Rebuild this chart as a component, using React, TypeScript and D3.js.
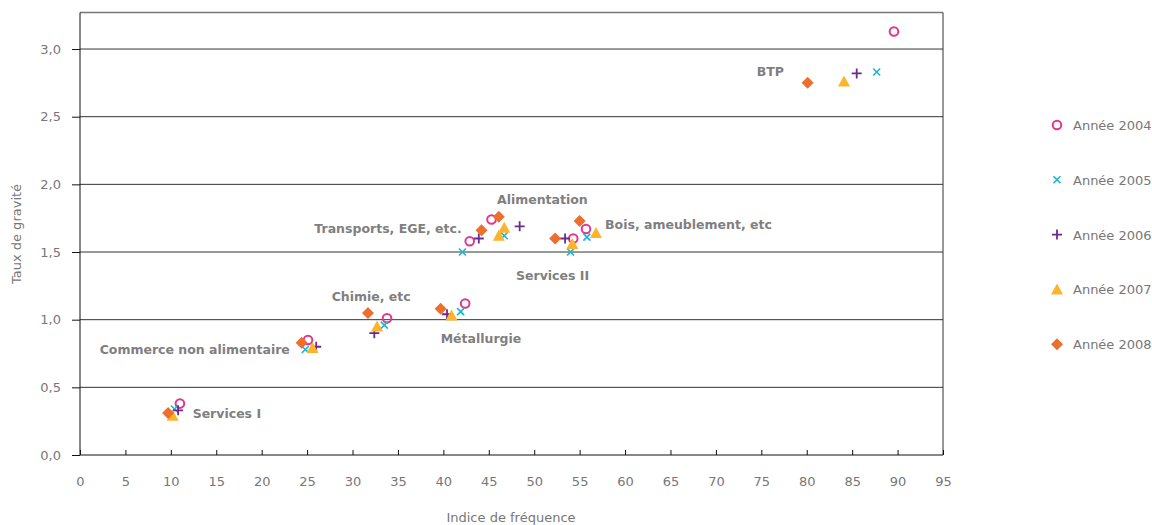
import * as d3 from 'd3';
import { useEffect, useRef } from 'react';

const sectors = ['Services I', 'Commerce non alimentaire', 'Chimie, etc', 'Métallurgie', 'Transports, EGE, etc.', 'Alimentation', 'Services II', 'Bois, ameublement, etc', 'BTP'];

// [indice de fréquence, taux de gravité] per sector, null where no mark
const y2004 = [[11.0, 0.38], [25.1, 0.85], [33.8, 1.01], [42.4, 1.12], [42.9, 1.58], [45.3, 1.74], [54.3, 1.60], [55.7, 1.67], [89.6, 3.13]];
const y2005 = [[10.4, 0.34], [24.8, 0.78], [33.5, 0.96], [41.9, 1.06], [42.1, 1.50], [46.7, 1.62], [54.0, 1.50], [55.8, 1.61], [87.7, 2.83]];
const y2006 = [[10.8, 0.33], [26.0, 0.80], [32.4, 0.90], [40.4, 1.04], [43.9, 1.60], [48.4, 1.69], [53.4, 1.60], null, [85.5, 2.82]];
const y2007 = [[10.2, 0.29], [25.6, 0.79], [32.7, 0.95], [40.9, 1.03], [46.1, 1.62], [46.7, 1.68], [54.2, 1.56], [56.8, 1.64], [84.1, 2.76]];
const y2008 = [[9.7, 0.31], [24.4, 0.83], [31.7, 1.05], [39.7, 1.08], [44.2, 1.66], [46.1, 1.76], [52.3, 1.60], [55.0, 1.73], [80.1, 2.75]];

// label anchor positions in data units (Commerce is right-aligned)
const labelPos = [[12.4, 0.27], [23.1, 0.75], [27.7, 1.14], [39.7, 0.83], [25.8, 1.64], [45.9, 1.855], [48.0, 1.29], [57.8, 1.67], [74.5, 2.80]];

const xTicks = d3.range(0, 96, 5);
const yTicks = [0, 0.5, 1, 1.5, 2, 2.5, 3];

const series = [
  { name: 'Année 2004', data: y2004, shape: 'circle', color: '#e5358a' },
  { name: 'Année 2005', data: y2005, shape: 'x', color: '#19b5d8' },
  { name: 'Année 2006', data: y2006, shape: 'plus', color: '#6a2c8c' },
  { name: 'Année 2007', data: y2007, shape: 'triangle', color: '#fbb42c' },
  { name: 'Année 2008', data: y2008, shape: 'diamond', color: '#ec6f2e' },
];

const FONT = '"DejaVu Sans", Verdana, sans-serif';

function drawMark(g: any, shape: string, color: string, x: number, y: number) {
  if (shape === 'circle') {
    g.append('circle').attr('cx', x).attr('cy', y).attr('r', 4.3)
      .attr('fill', 'none').attr('stroke', color).attr('stroke-width', 2);
  } else if (shape === 'x') {
    const s = 3.5;
    g.append('path').attr('d', `M${x - s},${y - s}L${x + s},${y + s}M${x - s},${y + s}L${x + s},${y - s}`)
      .attr('stroke', color).attr('stroke-width', 1.6);
  } else if (shape === 'plus') {
    const s = 5;
    g.append('path').attr('d', `M${x - s},${y}L${x + s},${y}M${x},${y - s}L${x},${y + s}`)
      .attr('stroke', color).attr('stroke-width', 1.8);
  } else if (shape === 'triangle') {
    g.append('path').attr('d', `M${x},${y - 6}L${x + 6},${y + 5}L${x - 6},${y + 5}Z`).attr('fill', color);
  } else {
    g.append('path').attr('d', `M${x},${y - 6}L${x + 6},${y}L${x},${y + 6}L${x - 6},${y}Z`).attr('fill', color);
  }
}

export default function App() {
  const svgRef = useRef<SVGSVGElement>(null);

  useEffect(() => {
    const svg = d3.select(svgRef.current);
    svg.selectAll('*').remove();
    const left = 80, right = 943, top = 12.5, bottom = 455;

    const x = d3.scaleLinear().domain([0, 95]).range([left, right]);
    const y = d3.scaleLinear().domain([0, 3.27]).range([bottom, top]);

    // grid lines
    svg.append('g').selectAll('line').data(yTicks.slice(1)).enter().append('line')
      .attr('x1', left).attr('x2', right)
      .attr('y1', (d) => y(d)).attr('y2', (d) => y(d))
      .attr('stroke', '#333').attr('stroke-width', 1);

    // frame
    svg.append('line').attr('x1', left).attr('x2', right).attr('y1', top).attr('y2', top).attr('stroke', '#777').attr('stroke-width', 1.5);
    svg.append('line').attr('x1', right).attr('x2', right).attr('y1', top).attr('y2', bottom).attr('stroke', '#333');

    // y axis
    const yAxis = svg.append('g').attr('transform', `translate(${left},0)`)
      .call(d3.axisLeft(y).tickValues(yTicks).tickSize(8).tickFormat((d: any) => d3.format('.1f')(d).replace('.', ',')));
    yAxis.select('.domain').attr('stroke', '#111').attr('d', `M0,${top}V${bottom}`);
    yAxis.selectAll('.tick line').attr('stroke', '#111');
    yAxis.selectAll('text').attr('fill', '#777').attr('font-size', 13).attr('font-family', FONT).attr('x', -19);

    // x axis
    const xAxis = svg.append('g').attr('transform', `translate(0,${bottom})`)
      .call(d3.axisBottom(x).tickValues(xTicks).tickSize(-5).tickFormat((d: any) => String(d)));
    xAxis.select('.domain').attr('stroke', '#111').attr('d', `M${left},0H${right}`);
    xAxis.selectAll('.tick line').attr('stroke', '#111');
    xAxis.selectAll('text').attr('fill', '#777').attr('font-size', 13).attr('font-family', FONT).attr('y', 22);

    // axis titles
    svg.append('text').attr('x', 511).attr('y', 522).attr('text-anchor', 'middle')
      .attr('fill', '#777').attr('font-size', 13).attr('font-family', FONT).text('Indice de fréquence');
    svg.append('text').attr('transform', `translate(21,234) rotate(-90)`).attr('text-anchor', 'middle')
      .attr('fill', '#777').attr('font-size', 13).attr('font-family', FONT).text('Taux de gravité');

    // sector labels
    svg.append('g').selectAll('text').data(sectors).enter().append('text')
      .attr('x', (d, i) => x(labelPos[i][0])).attr('y', (d, i) => y(labelPos[i][1]))
      .attr('text-anchor', (d, i) => (i === 1 ? 'end' : 'start'))
      .attr('fill', '#7f7f7f').attr('font-weight', 'bold').attr('font-size', 12.5).attr('font-family', FONT)
      .text((d) => d);

    // points
    series.forEach((s) => {
      const g = svg.append('g');
      s.data.forEach((p) => {
        if (p) drawMark(g, s.shape, s.color, x(p[0]), y(p[1]));
      });
    });

    // legend
    series.forEach((s, i) => {
      const ly = 125 + i * 54.8;
      drawMark(svg, s.shape, s.color, 1057, ly);
      svg.append('text').attr('x', 1073).attr('y', ly + 5).attr('fill', '#777')
        .attr('font-size', 13).attr('font-family', FONT).text(s.name);
    });
  }, []);

  return (
    <svg ref={svgRef} width={1152} height={525} style={{ position: 'absolute', left: 0, top: 0 }} />
  );
}
